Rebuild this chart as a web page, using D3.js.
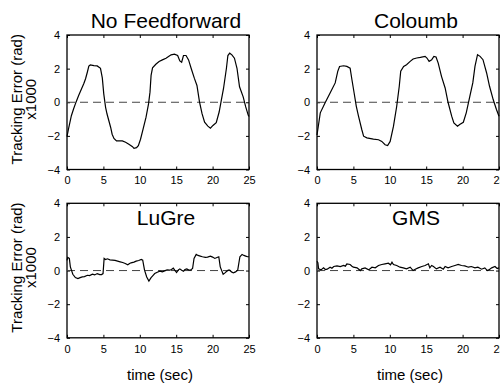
<!DOCTYPE html>
<html>
<head>
<meta charset="utf-8">
<script src="https://d3js.org/d3.v7.min.js"></script>
<style>
  body { margin:0; background:#fff; }
  svg { display:block; font-family:"Liberation Sans", Arial, Helvetica, sans-serif; }
</style>
</head>
<body>
<script>
// tick values
var xTicks = [0, 5, 10, 15, 20, 25];
var yTicks = [-4, -2, 0, 2, 4];

// [time, error x1000]
var noFeedforward = [[0,-2.05],[0.2,-1.6],[0.6,-0.8],[0.9,-0.4],[1.25,0.02],[1.6,0.4],[2.0,0.8],[2.3,1.1],[2.55,1.4],
  [2.8,1.8],[3.0,2.15],[3.2,2.22],[3.7,2.18],[4.15,2.16],[4.6,2.02],[4.85,1.45],[5.05,0.5],[5.3,-0.3],[5.5,-0.7],
  [5.75,-1.1],[6.0,-1.5],[6.2,-1.9],[6.45,-2.15],[6.8,-2.3],[7.15,-2.3],[7.6,-2.3],[8.05,-2.38],[8.5,-2.5],[9.0,-2.64],
  [9.2,-2.74],[9.55,-2.7],[9.8,-2.58],[10.1,-2.2],[10.45,-1.6],[10.85,-0.9],[11.2,-0.1],[11.4,0.6],[11.55,1.6],
  [11.75,2.05],[12.2,2.26],[12.65,2.42],[13.1,2.52],[13.6,2.62],[13.95,2.72],[14.3,2.82],[14.75,2.86],[15.2,2.78],
  [15.5,2.46],[15.75,2.38],[16.0,2.78],[16.35,2.78],[16.7,2.52],[17.05,2.02],[17.5,1.42],[17.85,1.0],[18.2,0.02],
  [18.55,-0.68],[18.9,-1.18],[19.35,-1.42],[19.7,-1.54],[20.05,-1.38],[20.5,-1.22],[20.9,-0.58],[21.2,0.12],
  [21.5,0.82],[21.9,2.02],[22.1,2.78],[22.35,2.92],[22.65,2.82],[23.0,2.62],[23.35,2.02],[23.7,0.92],[24.2,0.32],
  [24.55,-0.28],[24.9,-0.78],[25,-0.85]];

var coloumb = [[0,-1.95],[0.45,-0.63],[1.15,0],[1.8,0.55],[2.5,1.15],[2.85,1.84],[3.1,2.13],[3.65,2.17],[4.1,2.13],
  [4.55,2.03],[4.8,1.34],[5.1,0.55],[5.4,-0.24],[5.7,-0.83],[6.15,-1.62],[6.4,-2.02],[6.85,-2.12],[7.75,-2.19],
  [8.45,-2.23],[8.9,-2.33],[9.35,-2.53],[9.7,-2.57],[10.05,-2.33],[10.5,-1.44],[10.95,-0.24],[11.3,0.95],[11.5,1.84],
  [11.9,2.13],[12.3,2.23],[12.8,2.43],[13.2,2.57],[13.7,2.63],[14.2,2.67],[14.85,2.73],[15.1,2.63],[15.4,2.43],
  [15.75,2.53],[16.05,2.73],[16.35,2.69],[16.65,2.33],[17.1,1.54],[17.6,0.85],[18.0,0],[18.5,-0.83],[18.8,-1.23],
  [19.3,-1.42],[19.6,-1.32],[20.1,-1.19],[20.5,-0.63],[21.0,0.36],[21.4,1.15],[21.7,2.13],[22.05,2.83],[22.4,2.73],
  [22.8,2.53],[23.3,1.74],[23.7,0.95],[24.2,0.16],[24.65,-0.43],[25,-0.83]];

var luGre = [[0,0.6],[0.1,0.78],[0.32,0.72],[0.46,0.22],[0.8,-0.22],[1.15,-0.42],[1.5,-0.48],[1.8,-0.42],[2.1,-0.38],
  [2.4,-0.36],[2.8,-0.28],[3.1,-0.3],[3.5,-0.22],[3.8,-0.26],[4.15,-0.18],[4.5,-0.24],[4.75,-0.24],[4.95,-0.18],
  [5.1,0.72],[5.3,0.66],[5.55,0.7],[5.9,0.64],[6.25,0.62],[6.6,0.6],[6.95,0.56],[7.3,0.52],[7.65,0.48],[8.0,0.42],
  [8.35,0.34],[8.6,0.42],[8.8,0.46],[9.2,0.5],[9.5,0.56],[9.85,0.6],[10.2,0.66],[10.4,0.62],[10.65,0.02],[10.95,-0.38],
  [11.25,-0.62],[11.55,-0.42],[11.8,-0.3],[12.05,-0.18],[12.4,-0.1],[12.75,-0.04],[13.1,-0.08],[13.4,-0.02],
  [13.75,0.04],[14.1,0.02],[14.35,0.06],[14.6,0.14],[14.8,0.02],[15.05,-0.12],[15.3,0.04],[15.5,0.1],[15.75,0.02],
  [16.0,-0.04],[16.2,0.06],[16.45,0.1],[16.7,0.04],[16.95,0.02],[17.25,0.12],[17.45,0.72],[17.75,0.96],[18.0,0.9],
  [18.3,0.86],[18.6,0.82],[19.0,0.78],[19.3,0.8],[19.7,0.86],[20.0,0.8],[20.3,0.72],[20.6,0.78],[20.85,0.82],
  [21.05,0.22],[21.45,-0.22],[21.7,-0.14],[21.9,-0.06],[22.15,0.02],[22.35,0.02],[22.6,-0.08],[22.85,-0.14],
  [23.15,-0.08],[23.45,0.02],[23.75,0.82],[24.05,0.96],[24.3,0.9],[24.55,0.86],[24.8,0.82],[25,0.82]];

var gms = [[0,0.55],[0.12,0.46],[0.22,0.1],[0.55,0.04],[0.9,0.16],[1.15,0.06],[1.4,0.08],[1.8,0.2],[2.05,0.14],
  [2.3,0.24],[2.75,0.28],[3.2,0.24],[3.65,0.3],[3.9,0.26],[4.1,0.4],[4.55,0.36],[4.8,0.26],[5.0,0.2],[5.5,0.16],
  [5.95,0],[6.15,0.1],[6.6,0.16],[7.1,0.04],[7.55,0.2],[8.0,0.16],[8.45,0.3],[8.9,0.36],[9.35,0.4],[9.8,0.44],
  [10.1,0.34],[10.3,0.5],[10.5,0.36],[10.95,0.3],[11.4,0.2],[11.85,0.16],[12.3,0.1],[12.8,0.2],[13.2,0],[13.5,0.08],
  [13.9,0.16],[14.4,0.24],[14.85,0.3],[15.3,0.4],[15.5,0.16],[15.75,0.3],[16.0,0.24],[16.4,0.1],[16.9,0.2],
  [17.35,0.08],[17.6,0.24],[18.0,0.16],[18.5,0.24],[18.95,0.3],[19.4,0.36],[19.85,0.3],[20.3,0.28],[20.8,0.2],
  [21.2,0.24],[21.7,0.16],[22.1,0.2],[22.6,0.08],[23.05,0.16],[23.4,0],[23.6,0.04],[24.0,0.16],[24.45,0.24],
  [24.75,0.12],[25,0.16]];

var titles = ["No Feedforward", "Coloumb", "LuGre", "GMS"];
var series = [noFeedforward, coloumb, luGre, gms];

var width = 500, height = 385;
var svg = d3.select("body").append("svg").attr("width", width).attr("height", height);

var pw = 182, ph = 134.5;
var lefts = [67, 317];
var tops = [35, 203.3];

series.forEach(function(data, i){
  var col = i % 2, row = Math.floor(i / 2);
  var x0 = lefts[col], y0 = tops[row];
  var x = d3.scaleLinear().domain([0, 25]).range([x0, x0 + pw]);
  var y = d3.scaleLinear().domain([-4, 4]).range([y0 + ph, y0]);
  var g = svg.append("g");

  // axes (ticks inward, mirrored like a boxed plot)
  g.append("g").attr("transform", "translate(0," + (y0 + ph) + ")")
    .call(d3.axisBottom(x).tickValues(xTicks).tickSize(-3).tickPadding(7).tickFormat(d3.format("d")));
  g.append("g").attr("transform", "translate(0," + y0 + ")")
    .call(d3.axisTop(x).tickValues(xTicks).tickSize(-3).tickFormat(""));
  g.append("g").attr("transform", "translate(" + x0 + ",0)")
    .call(d3.axisLeft(y).tickValues(yTicks).tickSize(-3).tickPadding(7).tickFormat(d3.format("d")));
  g.append("g").attr("transform", "translate(" + (x0 + pw) + ",0)")
    .call(d3.axisRight(y).tickValues(yTicks).tickSize(-3).tickFormat(""));
  g.selectAll(".domain").remove();
  g.selectAll(".tick line").attr("stroke", "#000");
  g.selectAll(".tick text").attr("fill", "#000").style("font-size", "11px")
    .style("font-family", "'Liberation Sans', Arial, sans-serif");

  // frame
  g.append("rect").attr("x", x0).attr("y", y0).attr("width", pw).attr("height", ph)
    .attr("fill", "none").attr("stroke", "#000").attr("stroke-width", 1.3);

  // zero reference
  g.append("line").attr("x1", x(0)).attr("x2", x(25)).attr("y1", y(0)).attr("y2", y(0))
    .attr("stroke", "#444").attr("stroke-width", 1).attr("stroke-dasharray", "8,5");

  // data
  var line = d3.line().x(function(d){ return x(d[0]); }).y(function(d){ return y(d[1]); });
  g.append("path").datum(data).attr("d", line)
    .attr("fill", "none").attr("stroke", "#000").attr("stroke-width", 1.2);

  // title
  g.append("text").attr("x", x0 + pw / 2 + 8).attr("y", row === 0 ? 28 : y0 + 22)
    .attr("text-anchor", "middle").style("font-size", "21px").text(titles[i]);

  // y label on the left column
  if (col === 0) {
    var cy = y0 + ph / 2 - 3;
    var lab = g.append("text").attr("transform", "translate(22," + cy + ") rotate(-90)")
      .attr("text-anchor", "middle").style("font-size", "15px");
    lab.append("tspan").attr("x", 0).attr("dy", 0).text("Tracking Error (rad)");
    lab.append("tspan").attr("x", 0).attr("dy", 14).text("x1000");
  }
  // x label on the bottom row
  if (row === 1) {
    g.append("text").attr("x", x0 + pw / 2 + 2).attr("y", 380)
      .attr("text-anchor", "middle").style("font-size", "15px").text("time (sec)");
  }
});
</script>
</body>
</html>
